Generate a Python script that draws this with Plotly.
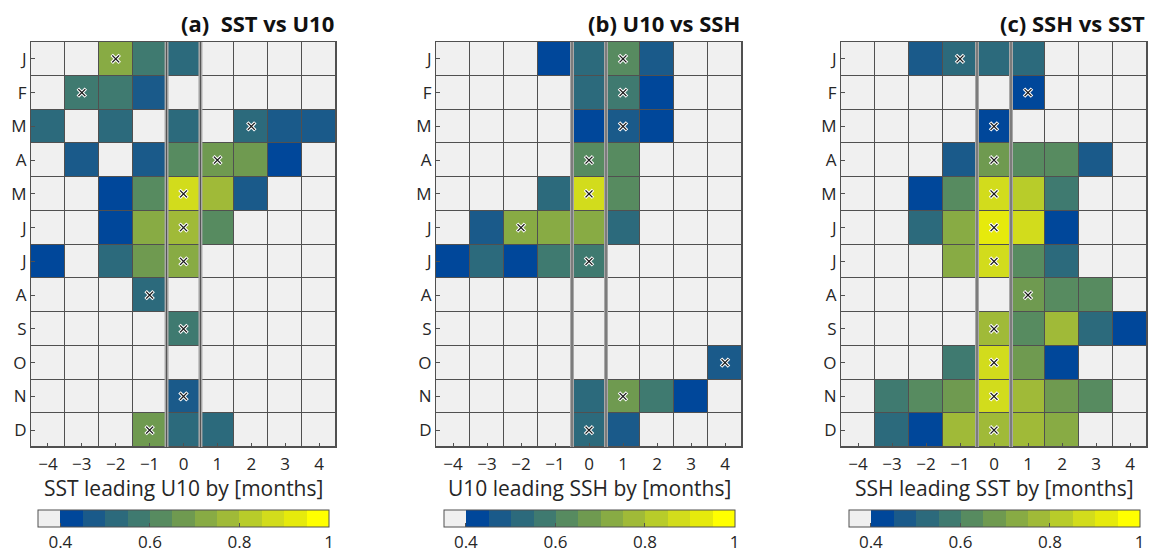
"""Lagged monthly correlation matrices for SST, U10 and SSH pairs."""

import plotly.graph_objects as go

# Rows are calendar months (Jan at top), columns are lags -4..4 months.
# Values below 0.4 are not significant and shown grey (stored as 0.0).
LAGS = [-4, -3, -2, -1, 0, 1, 2, 3, 4]
MONTHS = ["J", "F", "M", "A", "M", "J", "J", "A", "S", "O", "N", "D"]

SST_U10 = [
    [0, 0, 0.73, 0.58, 0.53, 0, 0, 0, 0],
    [0, 0.58, 0.58, 0.48, 0, 0, 0, 0, 0],
    [0.53, 0, 0.53, 0, 0.53, 0, 0.53, 0.48, 0.48],
    [0, 0.48, 0, 0.48, 0.63, 0.68, 0.68, 0.43, 0],
    [0, 0, 0.43, 0.63, 0.88, 0.78, 0.48, 0, 0],
    [0, 0, 0.43, 0.73, 0.78, 0.63, 0, 0, 0],
    [0.43, 0, 0.53, 0.68, 0.73, 0, 0, 0, 0],
    [0, 0, 0, 0.53, 0, 0, 0, 0, 0],
    [0, 0, 0, 0, 0.58, 0, 0, 0, 0],
    [0, 0, 0, 0, 0, 0, 0, 0, 0],
    [0, 0, 0, 0, 0.48, 0, 0, 0, 0],
    [0, 0, 0, 0.68, 0.53, 0.53, 0, 0, 0],
]
U10_SSH = [
    [0, 0, 0, 0.43, 0.53, 0.63, 0.48, 0, 0],
    [0, 0, 0, 0, 0.53, 0.58, 0.43, 0, 0],
    [0, 0, 0, 0, 0.43, 0.48, 0.43, 0, 0],
    [0, 0, 0, 0, 0.63, 0.63, 0, 0, 0],
    [0, 0, 0, 0.53, 0.88, 0.63, 0, 0, 0],
    [0, 0.48, 0.73, 0.73, 0.73, 0.53, 0, 0, 0],
    [0.43, 0.53, 0.43, 0.58, 0.58, 0, 0, 0, 0],
    [0, 0, 0, 0, 0, 0, 0, 0, 0],
    [0, 0, 0, 0, 0, 0, 0, 0, 0],
    [0, 0, 0, 0, 0, 0, 0, 0, 0.48],
    [0, 0, 0, 0, 0.53, 0.68, 0.58, 0.43, 0],
    [0, 0, 0, 0, 0.53, 0.48, 0, 0, 0],
]
SSH_SST = [
    [0, 0, 0.48, 0.53, 0.53, 0.53, 0, 0, 0],
    [0, 0, 0, 0, 0, 0.43, 0, 0, 0],
    [0, 0, 0, 0, 0.43, 0, 0, 0, 0],
    [0, 0, 0, 0.48, 0.68, 0.63, 0.63, 0.48, 0],
    [0, 0, 0.43, 0.63, 0.88, 0.83, 0.58, 0, 0],
    [0, 0, 0.53, 0.73, 0.93, 0.88, 0.43, 0, 0],
    [0, 0, 0, 0.73, 0.88, 0.63, 0.53, 0, 0],
    [0, 0, 0, 0, 0, 0.68, 0.63, 0.63, 0],
    [0, 0, 0, 0, 0.78, 0.63, 0.78, 0.53, 0.43],
    [0, 0, 0, 0.58, 0.88, 0.68, 0.43, 0, 0],
    [0, 0.58, 0.63, 0.68, 0.88, 0.78, 0.68, 0.63, 0],
    [0, 0.53, 0.43, 0.78, 0.78, 0.78, 0.73, 0, 0],
]

# Lag of the marked maximum for each month (None = no mark).
SST_U10_PEAK = [-2, -3, 2, 1, 0, 0, 0, -1, 0, None, 0, -1]
U10_SSH_PEAK = [1, 1, 1, 0, 0, -2, 0, None, None, 4, 1, 0]
SSH_SST_PEAK = [-1, 1, 0, 0, 0, 0, 0, 1, 0, 0, 0, 0]

TITLES = ["(a)\u00a0 SST vs U10", "(b) U10 vs SSH", "(c) SSH vs SST"]
XLABELS = [
    "SST leading U10 by [months]",
    "U10 leading SSH by [months]",
    "SSH leading SST by [months]",
]
CBAR_TICKS = [0.4, 0.6, 0.8, 1]

# Discrete colour bins: grey below 0.4, then 12 steps of 0.05 up to 1.
_BIN_COLORS = [
    "#f0f0f0", "#00479a", "#1a5a8a", "#2c6a7c", "#3f7a70", "#578b60",
    "#6f9a50", "#88ab44", "#a0ba38", "#b8cc2a", "#d2dc1c", "#e6ea0c",
    "#ffff00",
]
_ZMIN, _ZMAX = 0.35, 1.0
_GRID = "#505050"
_TEXT = "#262626"
_FONT = "Open Sans"

# Page geometry (pixels): plot area spans 31..1147 x 42..447.
_W, _H = 1149, 554
_ML, _MR, _MT, _MB = 31, 2, 42, 107
_PW, _PH = _W - _ML - _MR, _H - _MT - _MB
_PANEL_PX = [(31, 336), (436, 742), (841, 1147)]


def _px_x(px):
    return (px - _ML) / _PW


def _px_y(py):
    return (_H - _MB - py) / _PH


def _colorscale():
    n = len(_BIN_COLORS)
    scale = []
    for i, c in enumerate(_BIN_COLORS):
        scale.append([i / n, c])
        scale.append([(i + 1) / n, c])
    return scale


fig = go.Figure()
panels = [(SST_U10, SST_U10_PEAK), (U10_SSH, U10_SSH_PEAK), (SSH_SST, SSH_SST_PEAK)]

for k, (z, peaks) in enumerate(panels):
    sfx = "" if k == 0 else str(k + 1)
    xa, ya = "x" + sfx, "y" + sfx
    x0, x1 = _px_x(_PANEL_PX[k][0]), _px_x(_PANEL_PX[k][1])
    cx = (x0 + x1) / 2

    fig.add_trace(
        go.Heatmap(
            z=z,
            x=LAGS,
            y=list(range(len(MONTHS))),
            zmin=_ZMIN,
            zmax=_ZMAX,
            colorscale=_colorscale(),
            xgap=1,
            ygap=1,
            xaxis=xa,
            yaxis=ya,
            hovertemplate="lag %{x}: r=%{z:.2f}<extra></extra>",
            colorbar=dict(
                orientation="h",
                x=cx,
                xanchor="center",
                y=_px_y(510),
                yanchor="top",
                ypad=0,
                xpad=0,
                len=291,
                lenmode="pixels",
                thickness=17,
                outlinecolor=_GRID,
                outlinewidth=1,
                tickvals=CBAR_TICKS,
                ticktext=["0.4", "0.6", "0.8", "1"],
                ticks="inside",
                ticklen=4,
                tickcolor=_GRID,
                tickfont=dict(family=_FONT, size=17, color=_TEXT),
            ),
        )
    )

    mx = [p for p in peaks if p is not None]
    my = [i for i, p in enumerate(peaks) if p is not None]
    fig.add_trace(
        go.Scatter(
            x=mx, y=my, mode="markers", xaxis=xa, yaxis=ya, hoverinfo="skip",
            marker=dict(symbol="x-thin", size=8, line=dict(color="white", width=3.5)),
        )
    )
    fig.add_trace(
        go.Scatter(
            x=mx, y=my, mode="markers", xaxis=xa, yaxis=ya, hoverinfo="skip",
            marker=dict(symbol="x-thin", size=7, line=dict(color="#1a1a1a", width=1.4)),
        )
    )

    axis_common = dict(
        showline=True, linecolor=_GRID, linewidth=1, mirror=True,
        ticks="inside", ticklen=4, tickcolor=_GRID, showgrid=False,
        zeroline=False, automargin=False,
        tickfont=dict(family=_FONT, size=17, color=_TEXT),
    )
    fig.layout["xaxis" + sfx] = dict(
        axis_common, domain=[x0, x1], range=[-4.5, 4.5], tickvals=LAGS,
        anchor=ya, ticklabelstandoff=2,
    )
    fig.layout["yaxis" + sfx] = dict(
        axis_common, domain=[0, 1], range=[11.5, -0.5],
        tickvals=list(range(len(MONTHS))), ticktext=MONTHS, anchor=xa,
    )

    # Heavy separators around the zero-lag column.
    for xv in (-0.5, 0.5):
        fig.add_shape(
            type="line", xref=xa, yref=ya + " domain", x0=xv, x1=xv, y0=0, y1=1,
            line=dict(color="#a8a8a8", width=4), layer="above",
        )
        fig.add_shape(
            type="line", xref=xa, yref=ya + " domain", x0=xv, x1=xv, y0=0, y1=1,
            line=dict(color=_GRID, width=1), layer="above",
        )

    fig.add_annotation(
        text=f"<b>{TITLES[k]}</b>", xref="paper", yref="paper", x=x1,
        y=_px_y(23), xanchor="right", yanchor="middle", showarrow=False,
        font=dict(family=_FONT, size=22, color="#111111"),
    )
    fig.add_annotation(
        text=XLABELS[k], xref="paper", yref="paper", x=cx, y=_px_y(488),
        xanchor="center", yanchor="middle", showarrow=False,
        font=dict(family=_FONT, size=21, color=_TEXT),
    )

fig.update_layout(
    width=_W,
    height=_H,
    margin=dict(l=_ML, r=_MR, t=_MT, b=_MB, autoexpand=False),
    paper_bgcolor="white",
    plot_bgcolor=_GRID,
    showlegend=False,
    font=dict(family=_FONT, color=_TEXT),
)

# Drop the default page margin so the figure sits flush in the window.
fig.write_html(
    "out.html",
    config={"displayModeBar": False},
    post_script="document.body.style.margin='0';document.body.style.overflow='hidden';",
)
